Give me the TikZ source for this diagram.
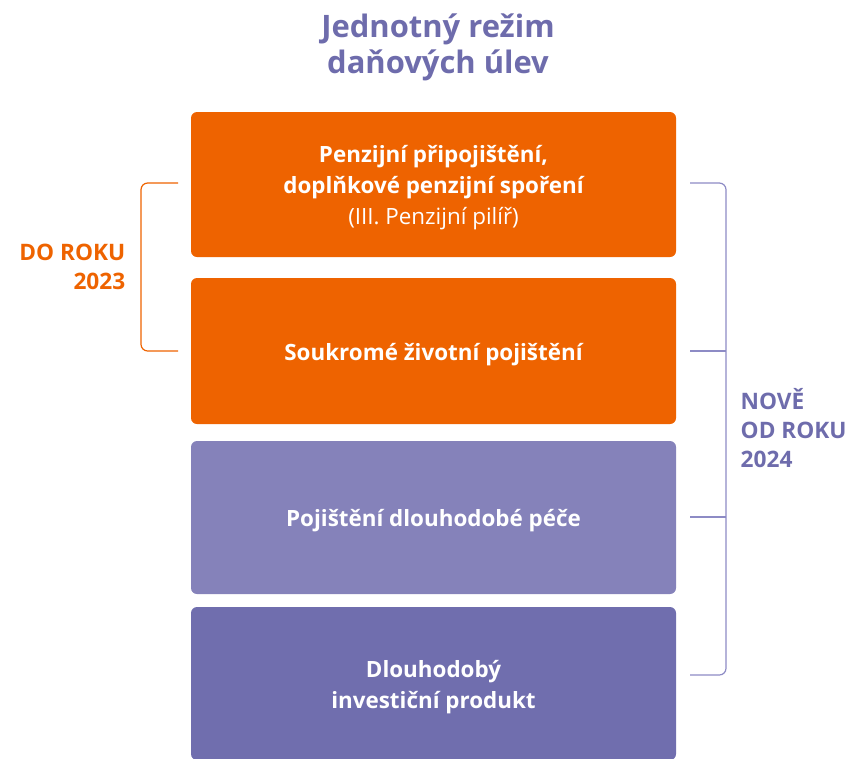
\documentclass[tikz,border=0pt]{standalone}
\usepackage{fontspec}
\setmainfont{Open Sans}
\definecolor{orng}{HTML}{EE6300}
\definecolor{ttl}{HTML}{6E6CAC}
\definecolor{lpur}{HTML}{8582BA}
\definecolor{dpur}{HTML}{706EAE}
\definecolor{brk}{HTML}{8D8BC5}
\begin{document}
\begin{tikzpicture}[x=0.75pt,y=-0.75pt,
  box/.style={rectangle,rounded corners=4.5pt,inner sep=0pt,minimum width=363.75pt},
  boxtext/.style={text=white,align=center,inner sep=0pt,yshift=-2.5pt,font=\fontsize{16.8}{23.25}\selectfont\bfseries},
  side/.style={font=\fontsize{17}{21.9}\selectfont\bfseries},
  brkline/.style={line width=0.9pt,rounded corners=5pt}]
\useasboundingbox (0,0) rectangle (852,758);
\node[text=ttl,align=center,font=\fontsize{23.2}{27}\selectfont\bfseries] (title) at (438,47.5) {Jednotný režim\\daňových úlev};
\node[box,fill=orng,minimum height=108.75pt] (b1) at (433.5,184.5) {};
\node[box,fill=orng,minimum height=109.5pt] (b2) at (433.5,351) {};
\node[box,fill=lpur,minimum height=114.75pt] (b3) at (433.5,517.5) {};
\node[box,fill=dpur,minimum height=114.75pt] (b4) at (433.5,683.5) {};
\node[boxtext] (t1) at (b1.center) {Penzijní připojištění,\\doplňkové penzijní spoření\\{\mdseries (III. Penzijní pilíř)}};
\node[boxtext] (t2) at (b2.center) {Soukromé životní pojištění};
\node[boxtext] (t3) at (b3.center) {Pojištění dlouhodobé péče};
\node[boxtext] (t4) at (b4.center) {Dlouhodobý\\investiční produkt};
\node[side,text=orng,align=right,anchor=east] (l) at (130,266.5) {DO ROKU\\2023};
\node[side,text=ttl,align=left,anchor=west] (r) at (736,428) {NOVĚ\\OD ROKU\\2024};
\coordinate (la) at (178,183);
\coordinate (lb) at (178,351);
\coordinate (ra) at (690,183);
\coordinate (rb) at (690,351);
\coordinate (rc) at (690,517);
\coordinate (rd) at (690,675);
\coordinate (rb2) at (726,351);
\coordinate (rc2) at (726,517);
\draw[brkline,orng] (la) -- (141,183) -- (141,351) -- (lb);
\draw[brkline,brk] (ra) -- (726,183) -- (726,675) -- (rd);
\draw[line width=0.9pt,brk] (rb) -- (rb2);
\draw[line width=0.9pt,brk] (rc) -- (rc2);
\end{tikzpicture}
\end{document}
